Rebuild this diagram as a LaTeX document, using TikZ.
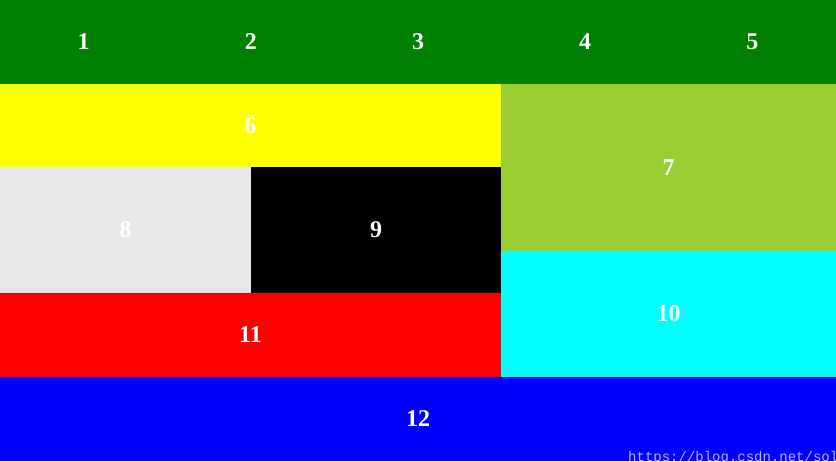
\documentclass[tikz,border=0pt]{standalone}
\usepackage{fontspec}
\setmainfont{Liberation Serif}
\setmonofont{Liberation Mono}
\definecolor{cgreen}{HTML}{008000}
\definecolor{cyellow}{HTML}{FFFF00}
\definecolor{cyg}{HTML}{9ACD32}
\definecolor{cgray}{HTML}{E8E8E8}
\definecolor{ccyan}{HTML}{00FFFF}
\definecolor{cred}{HTML}{FF0000}
\definecolor{cblue}{HTML}{0000FF}
\begin{document}
\begin{tikzpicture}[x=1pt,y=-1pt,
  cell/.style={anchor=north west,inner sep=0pt,outer sep=0pt,minimum width=#1},
  lbl/.style={text=white,font=\fontsize{24}{28}\selectfont\bfseries}]
\useasboundingbox (0,0) rectangle (836,461);
\begin{scope}
\clip (0,0) rectangle (836,461);
\fill[cgreen] (0,0) rectangle (836,84);
\fill[cyellow] (0,84) rectangle (501,167);
\fill[cyg] (501,84) rectangle (836,251);
\fill[cgray] (0,167) rectangle (251,293);
\fill[black] (251,167) rectangle (501,293);
\fill[ccyan] (501,251) rectangle (836,377);
\fill[cred] (0,293) rectangle (501,377);
\fill[cblue] (0,377) rectangle (836,461);
\node[lbl] (n1) at (83.6,42) {1};
\node[lbl] (n2) at (250.8,42) {2};
\node[lbl] (n3) at (418,42) {3};
\node[lbl] (n4) at (585.2,42) {4};
\node[lbl] (n5) at (752.4,42) {5};
\node[lbl] (n6) at (250.5,126) {6};
\node[lbl] (n7) at (668.5,168) {7};
\node[lbl] (n8) at (125.5,230) {8};
\node[lbl] (n9) at (376,230) {9};
\node[lbl] (n10) at (668.5,314) {10};
\node[lbl] (n11) at (250.5,335) {11};
\node[lbl] (n12) at (418,419) {12};
\node[anchor=north west,inner sep=0pt,text=white!70!cblue,font=\ttfamily\fontsize{14}{16}\selectfont] (wm) at (628,451) {https://blog.csdn.net/sol};
\end{scope}
\end{tikzpicture}
\end{document}
